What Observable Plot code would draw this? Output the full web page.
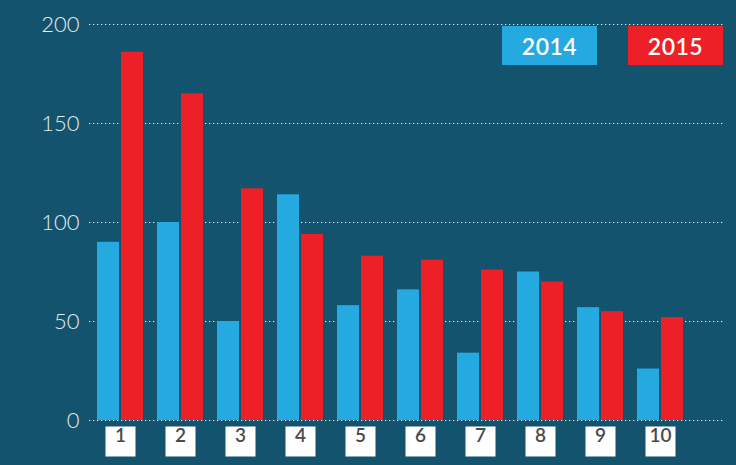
<!DOCTYPE html>
<html>
<head>
<meta charset="utf-8">
<script src="https://cdn.jsdelivr.net/npm/d3@7"></script>
<script src="https://cdn.jsdelivr.net/npm/@observablehq/plot@0.6"></script>
<style>
  html, body { margin: 0; padding: 0; background: #13536e; }
  #wrap { position: relative; width: 736px; height: 465px; overflow: hidden; }
  .key { position: absolute; top: 26px; width: 95px; height: 39px; color: #fff;
         font-family: Lato, sans-serif; font-weight: 600; font-size: 23px;
         display: flex; align-items: center; justify-content: center; letter-spacing: 0.5px; }
</style>
</head>
<body>
<div id="wrap"></div>
<script>
const groups = ["1","2","3","4","5","6","7","8","9","10"];
const values2014 = [90, 100, 50, 114, 58, 66, 34, 75, 57, 26];
const values2015 = [186, 165, 117, 94, 83, 81, 76, 70, 55, 52];
const yTicks = [0, 50, 100, 150, 200];
const seriesNames = ["2014", "2015"];
const seriesColors = ["#25a9e1", "#ed2027"];

const data2014 = groups.map((g, i) => ({group: g, value: values2014[i]}));
const data2015 = groups.map((g, i) => ({group: g, value: values2015[i]}));

const chart = Plot.plot({
  width: 736,
  height: 465,
  marginTop: 24,
  marginBottom: 45,
  marginLeft: 89,
  marginRight: 13,
  style: {background: "transparent", color: "#e4ebee", fontFamily: "Lato, sans-serif", fontSize: "22px", fontWeight: 300, overflow: "visible"},
  x: {domain: groups, paddingInner: 14 / 60, paddingOuter: 0.4, align: 1 / 6, round: false, axis: null},
  y: {domain: [0, 200], ticks: yTicks, tickSize: 0, tickPadding: 10, label: null},
  marks: [
    Plot.ruleY(yTicks, {stroke: "#ffffff", strokeWidth: 1.2, strokeDasharray: "1.3,2.7", strokeOpacity: 0.9}),
    Plot.barY(data2014, {x: "group", y: "value", fill: seriesColors[0], insetRight: 24}),
    Plot.barY(data2015, {x: "group", y: "value", fill: seriesColors[1], insetLeft: 24}),
    Plot.dot(groups, {x: d => d, frameAnchor: "bottom", dy: 21, symbol: "square", r: 16.93, fill: "#ffffff"}),
    Plot.text(groups, {x: d => d, frameAnchor: "bottom", dy: 21, fill: "#4a4a4a", fontSize: 19, fontWeight: 600})
  ]
});

const wrap = document.getElementById("wrap");
wrap.appendChild(chart);
const keyLeft = [502, 628];
seriesNames.forEach((name, i) => {
  const k = document.createElement("div");
  k.className = "key";
  k.style.left = keyLeft[i] + "px";
  k.style.background = seriesColors[i];
  k.textContent = name;
  wrap.appendChild(k);
});
</script>
</body>
</html>
